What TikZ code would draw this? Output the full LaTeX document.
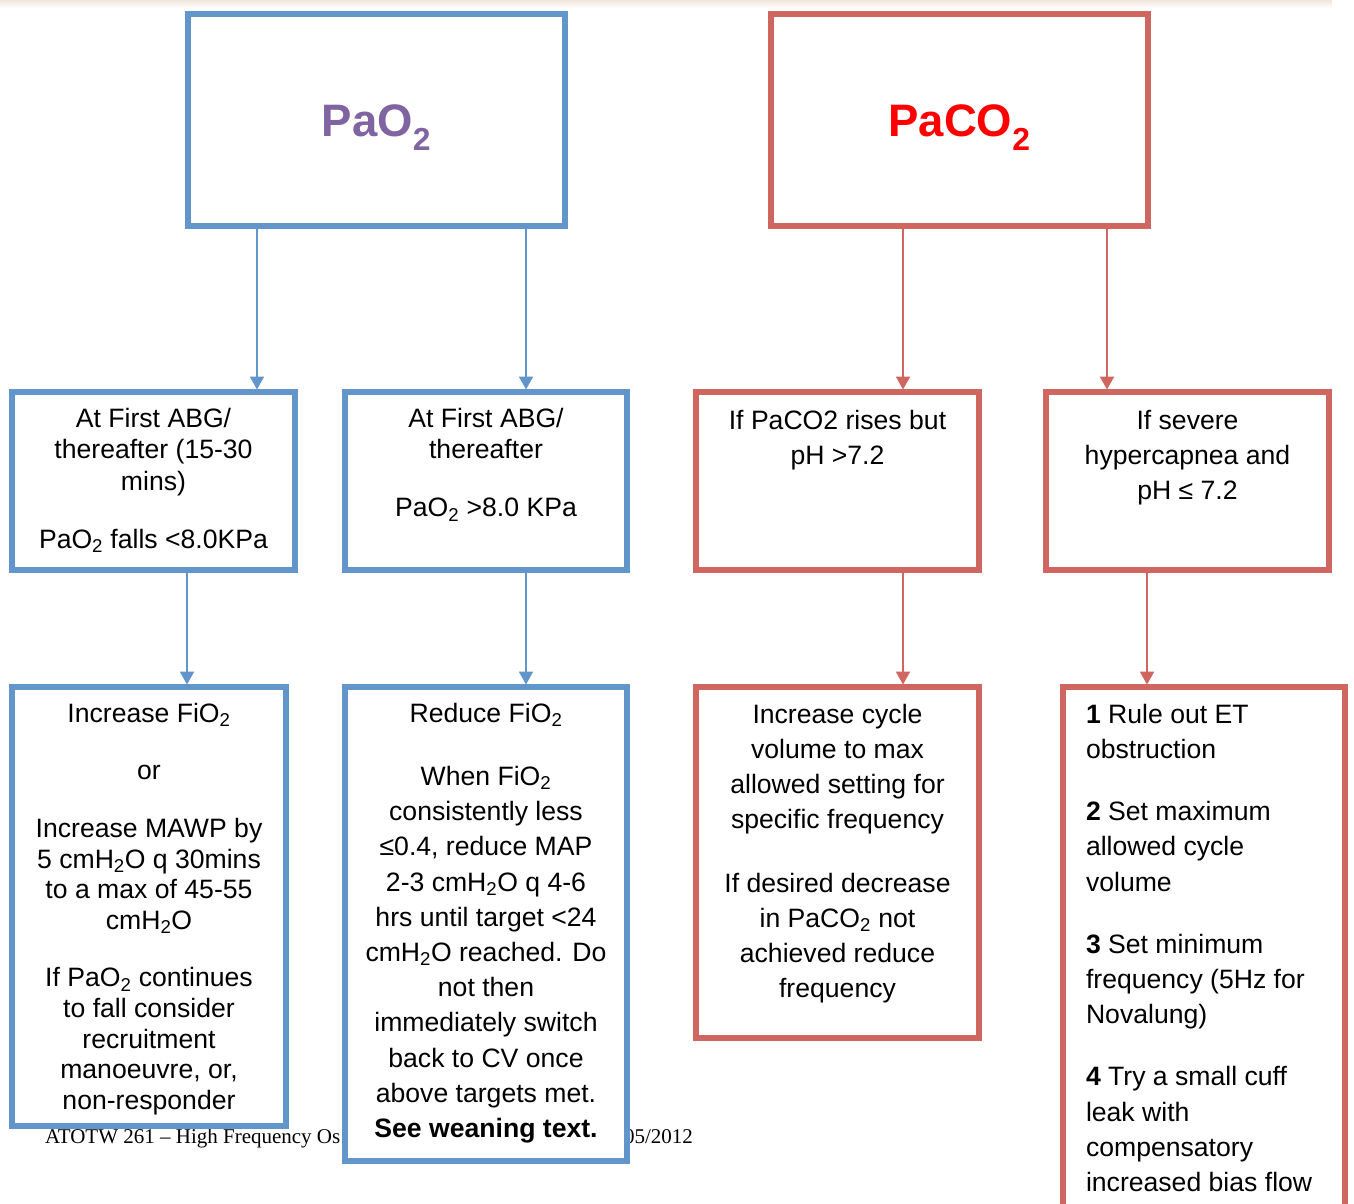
\documentclass[tikz,border=0pt]{standalone}
\usepackage{fontspec}
\setmainfont{Liberation Sans}
\newfontfamily\footfont{Liberation Serif}
\usetikzlibrary{arrows.meta}
\definecolor{bblue}{RGB}{98,149,201}
\definecolor{rred}{RGB}{207,102,96}
\definecolor{ppurple}{RGB}{128,100,162}
\definecolor{ttred}{RGB}{255,0,0}
\definecolor{shadowc}{RGB}{240,230,218}
\begin{document}
\begin{tikzpicture}[x=1pt,y=-1pt,
 box/.style={draw, line width=6pt, fill=white, inner sep=0pt, outer sep=0pt},
 bbox/.style={box, draw=bblue},
 rbox/.style={box, draw=rred},
 txt/.style={inner sep=0pt, outer sep=0pt, align=center, text=black, font=\fontsize{26.6}{30.6}\selectfont},
 txta/.style={txt, font=\fontsize{26.6}{31.5}\selectfont},
 txtw/.style={txt, font=\fontsize{26.6}{35.2}\selectfont},
 barr/.style={draw=bblue, fill=bblue, line width=2.2pt, -{Triangle[width=14pt,length=13pt]}, shorten >=2.5pt},
 rarr/.style={draw=rred, fill=rred, line width=2.2pt, -{Triangle[width=14pt,length=13pt]}, shorten >=2.5pt},
 title/.style={font=\bfseries\fontsize{45.5}{50}\selectfont, inner sep=0pt, outer sep=0pt, anchor=base},
 foot/.style={font=\footfont\fontsize{21}{24}\selectfont, inner sep=0pt, outer sep=0pt, anchor=base west}]
\useasboundingbox (0,0) rectangle (1354,1203);
\fill[white] (0,0) rectangle (1354,1203);
\shade[top color=shadowc, bottom color=white] (0,0) rectangle (1332,8);
% footer (partly hidden)
\node[foot] (f1) at (45,1143) {ATOTW 261 – High Frequency Os};
\node[foot] (f2) at (624,1143) {05/2012};
% boxes
\node[bbox, minimum width=377pt, minimum height=212pt] (P) at (376.5,120) {};
\node[rbox, minimum width=377pt, minimum height=212pt] (Q) at (959.5,120) {};
\node[bbox, minimum width=283pt, minimum height=178pt] (A) at (153.5,481) {};
\node[bbox, minimum width=282pt, minimum height=178pt] (B) at (486,481) {};
\node[rbox, minimum width=283pt, minimum height=178pt] (C) at (837.5,481) {};
\node[rbox, minimum width=283pt, minimum height=178pt] (D) at (1187.5,481) {};
\node[bbox, minimum width=274pt, minimum height=439pt] (E) at (149,906.5) {};
\node[bbox, minimum width=282pt, minimum height=474pt] (F) at (486,924) {};
\node[rbox, minimum width=283pt, minimum height=351pt] (G) at (837.5,862.5) {};
\node[rbox, minimum width=282pt, minimum height=543pt] (H) at (1204,958.5) {};
% connectors
\draw[barr] (P.south -| 257,0) -- (A.north -| 257,0);
\draw[barr] (P.south -| 526,0) -- (B.north -| 526,0);
\draw[rarr] (Q.south -| 903,0) -- (C.north -| 903,0);
\draw[rarr] (Q.south -| 1107,0) -- (D.north -| 1107,0);
\draw[barr] (A.south -| 187,0) -- (E.north -| 187,0);
\draw[barr] (B.south -| 526,0) -- (F.north -| 526,0);
\draw[rarr] (C.south -| 903,0) -- (G.north -| 903,0);
\draw[rarr] (D.south -| 1147,0) -- (H.north -| 1147,0);
% titles
\node[title, text=ppurple] (tP) at (376.5,136.5) {PaO\textsubscript{2}};
\node[title, text=ttred] (tQ) at (959.5,136.5) {PaCO\textsubscript{2}};
% texts
\node[txta, anchor=north] (tA) at (153.5,408) {\rule{0pt}{19pt}At First ABG/\\thereafter (15-30\\mins)\\[26.5pt]PaO\textsubscript{2} falls <8.0KPa};
\node[txta, anchor=north] (tB) at (486,408) {\rule{0pt}{19pt}At First ABG/\\thereafter\\[26.5pt]PaO\textsubscript{2} >8.0 KPa};
\node[txtw, anchor=north] (tC) at (837.5,410) {\rule{0pt}{19pt}If PaCO2 rises but\\pH >7.2};
\node[txtw, anchor=north] (tD) at (1187.5,410) {\rule{0pt}{19pt}If severe\\hypercapnea and\\pH ≤ 7.2};
\node[txt, anchor=north] (tE) at (149,703) {\rule{0pt}{19pt}Increase FiO\textsubscript{2}\\[27pt]or\\[27pt]Increase MAWP by\\5 cmH\textsubscript{2}O q 30mins\\to a max of 45-55\\cmH\textsubscript{2}O\\[27pt]If PaO\textsubscript{2} continues\\to fall consider\\recruitment\\manoeuvre, or,\\non-responder};
\node[txtw, anchor=north] (tF) at (486,703) {\rule{0pt}{19pt}Reduce FiO\textsubscript{2}\\[28pt]When FiO\textsubscript{2}\\consistently less\\≤0.4, reduce MAP\\2-3 cmH\textsubscript{2}O q 4-6\\hrs until target <24\\cmH\textsubscript{2}O reached. Do\\not then\\immediately switch\\back to CV once\\above targets met.\\\textbf{See weaning text.}};
\node[txtw, anchor=north] (tG) at (837.5,704) {\rule{0pt}{19pt}Increase cycle\\volume to max\\allowed setting for\\specific frequency\\[28pt]If desired decrease\\in PaCO\textsubscript{2} not\\achieved reduce\\frequency};
\node[txtw, align=left, anchor=north west] (tH) at (1086,704) {\rule{0pt}{19pt}\textbf{1} Rule out ET\\obstruction\\[27pt]\textbf{2} Set maximum\\allowed cycle\\volume\\[27pt]\textbf{3} Set minimum\\frequency (5Hz for\\Novalung)\\[27pt]\textbf{4} Try a small cuff\\leak with\\compensatory\\increased bias flow};
\end{tikzpicture}
\end{document}
